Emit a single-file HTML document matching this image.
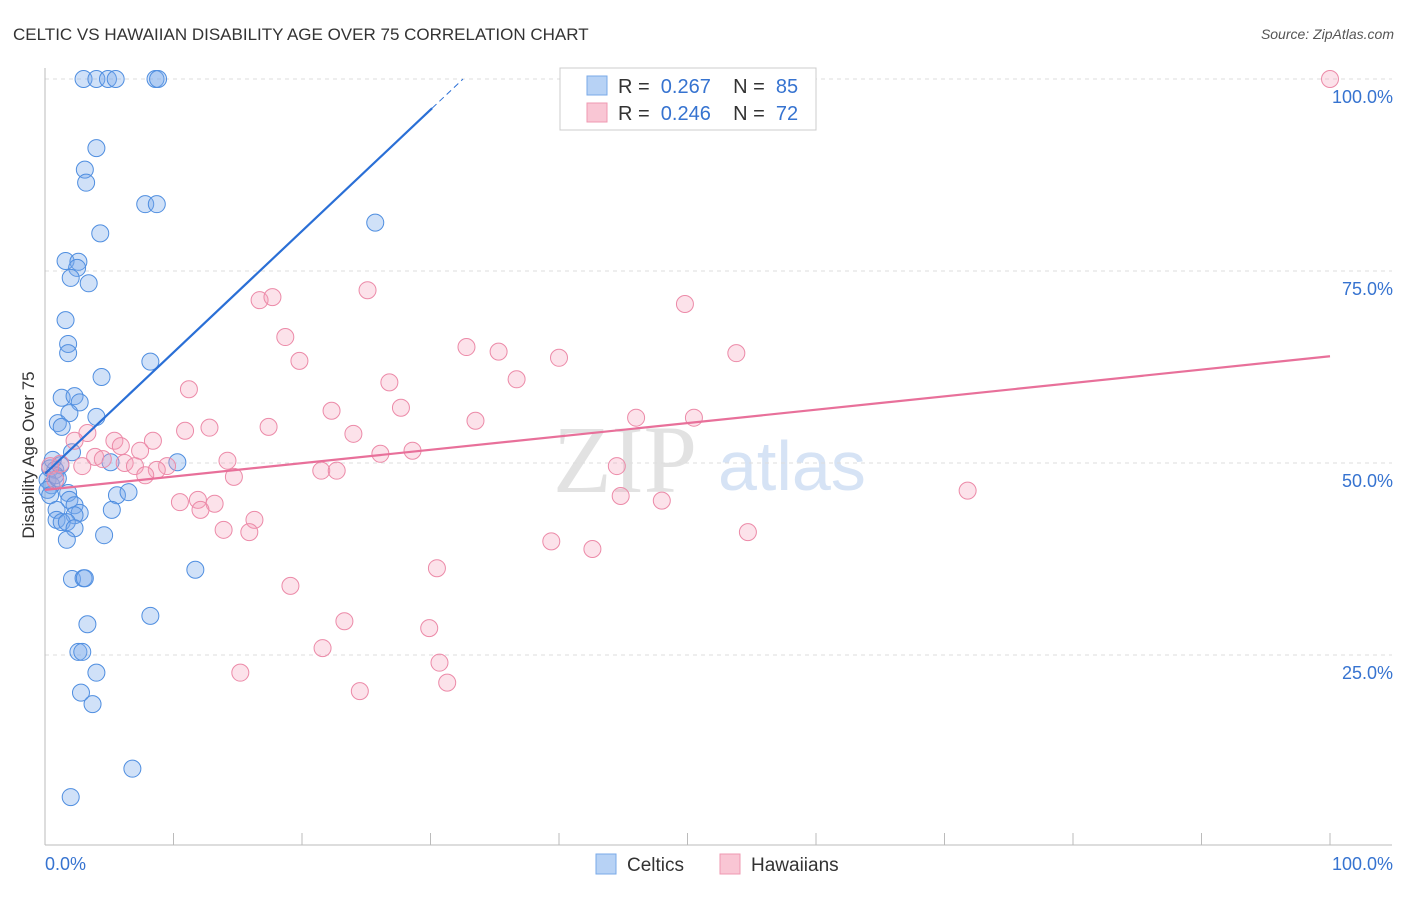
<!DOCTYPE html>
<html><head><meta charset="utf-8"><style>
body{margin:0;background:#fff;font-family:"Liberation Sans",sans-serif;}
</style></head><body>
<svg width="1406" height="892" xmlns="http://www.w3.org/2000/svg" id="svg" font-family="Liberation Sans, sans-serif">
<text x="13" y="40" font-size="17" fill="#333">CELTIC VS HAWAIIAN DISABILITY AGE OVER 75 CORRELATION CHART</text>
<text x="1394" y="39" font-size="14" fill="#555" font-style="italic" text-anchor="end">Source: ZipAtlas.com</text>
<text x="553" y="492" font-size="96" fill="#e2e2e2" font-family="Liberation Serif, serif">ZIP</text>
<text x="718" y="490" font-size="70" fill="#d6e3f5">atlas</text>
<g id="grid"></g>
<g id="marks"></g>
<text transform="translate(34,455) rotate(-90)" font-size="17" fill="#333" text-anchor="middle">Disability Age Over 75</text>
<g>
<rect x="560" y="68" width="256" height="62" fill="#fff" stroke="#ccc"/>
<rect x="587" y="76" width="20" height="19" fill="#b7d2f5" stroke="#7aaae8"/>
<rect x="587" y="103" width="20" height="19" fill="#f9c6d4" stroke="#ef98b2"/>
<text x="618" y="93" font-size="20" fill="#333" xml:space="preserve">R =  <tspan fill="#3673d0">0.267</tspan>    N =  <tspan fill="#3673d0">85</tspan></text>
<text x="618" y="120" font-size="20" fill="#333" xml:space="preserve">R =  <tspan fill="#3673d0">0.246</tspan>    N =  <tspan fill="#3673d0">72</tspan></text>
</g>
<g>
<rect x="596" y="854" width="20" height="20" fill="#b7d2f5" stroke="#7aaae8"/>
<text x="627" y="871" font-size="19" fill="#333">Celtics</text>
<rect x="720" y="854" width="20" height="20" fill="#f9c6d4" stroke="#ef98b2"/>
<text x="751" y="871" font-size="19" fill="#333">Hawaiians</text>
</g>
</svg>
<script>
const yTicks=[100,75,50,25];
const yTickLabels=["100.0%","75.0%","50.0%","25.0%"];
const xEndLabels=["0.0%","100.0%"];
const celticX=[3.0,4.0,4.9,5.5,8.6,8.8,4.0,3.1,3.2,7.8,8.7,25.7,4.3,1.6,2.6,2.5,2.0,3.4,1.6,1.8,1.8,8.2,4.4,1.3,2.3,2.7,1.9,4.0,1.0,1.3,5.1,10.3,2.1,0.4,0.8,1.2,0.2,0.5,0.8,0.2,0.4,1.0,0.6,1.8,1.9,2.3,0.9,2.7,2.3,0.9,1.3,1.7,2.3,1.7,4.6,5.6,6.5,5.2,2.1,3.0,3.1,11.7,8.2,3.3,2.6,2.9,4.0,2.8,3.7,6.8,2.0];
const celticY=[100,100,100,100,100,100,91.0,88.2,86.5,83.7,83.7,81.3,79.9,76.3,76.2,75.4,74.1,73.4,68.6,65.5,64.3,63.2,61.2,58.5,58.7,57.9,56.5,56.0,55.2,54.7,50.1,50.1,51.4,49.3,49.1,49.7,47.8,47.1,48.4,46.5,45.8,48.0,50.4,46.1,45.2,44.5,43.9,43.5,43.2,42.6,42.3,42.3,41.5,40.0,40.6,45.8,46.2,43.9,34.9,35.0,35.0,36.1,30.1,29.0,25.4,25.4,22.7,20.1,18.6,10.2,6.5];
const hawX=[100,49.8,25.1,16.7,17.7,18.7,19.8,32.8,35.3,40.0,53.8,26.8,36.7,11.2,22.3,27.7,33.5,46.0,50.5,24.0,17.4,12.8,10.9,3.3,2.3,8.4,5.4,5.9,7.4,28.6,26.1,3.9,4.5,6.2,7.0,9.5,8.7,7.8,14.2,14.7,2.9,1.2,0.4,0.8,21.5,22.7,44.5,10.5,11.9,13.2,12.1,44.8,48.0,71.8,16.3,13.9,15.9,54.7,39.4,42.6,30.5,19.1,23.3,29.9,21.6,15.2,30.7,31.3,24.5];
const hawY=[100,70.7,72.5,71.2,71.6,66.4,63.3,65.1,64.5,63.7,64.3,60.5,60.9,59.6,56.8,57.2,55.5,55.9,55.9,53.8,54.7,54.6,54.2,53.9,52.9,52.9,52.9,52.2,51.6,51.6,51.2,50.8,50.5,50.0,49.6,49.6,49.1,48.4,50.3,48.2,49.6,49.9,49.6,47.8,49.0,49.0,49.6,44.9,45.2,44.7,43.9,45.7,45.1,46.4,42.6,41.3,41.0,41.0,39.8,38.8,36.3,34.0,29.4,28.5,25.9,22.7,24.0,21.4,20.3];
const celticTrend=[48.6,1.58];
const hawTrend=[46.5,0.174];
const X0=45,X1=1330,YT=79,YB=847;
const sx=v=>X0+(X1-X0)*v/100, sy=v=>YB-(YB-YT)*v/100;
const NS="http://www.w3.org/2000/svg";
const grid=document.getElementById('grid'), marks=document.getElementById('marks');
function mk(tag,attrs,parent){const e=document.createElementNS(NS,tag);for(const k in attrs)e.setAttribute(k,attrs[k]);parent.appendChild(e);return e;}
yTicks.forEach((t,i)=>{
 const l=mk('line',{x1:45,x2:1392,y1:sy(t),y2:sy(t),stroke:'#ddd','stroke-dasharray':'4,4'},grid);
 
 
 const tx=mk('text',{x:1393,y:sy(t)+24,'font-size':18,fill:'#3673d0','text-anchor':'end'},grid);
 tx.textContent=yTickLabels[i];
 
 
});
const ax=mk('line',{x1:45,x2:1392,y1:845,y2:845,stroke:'#bbb'},grid);


const ay=mk('line',{x1:45,x2:45,y1:68,y2:845,stroke:'#bbb'},grid);


for(let i=1;i<=10;i++){
 const t=mk('line',{x1:sx(i*10),x2:sx(i*10),y1:833,y2:845,stroke:'#bbb'},grid);
 
 
}
const xl0=mk('text',{x:45,y:870,'font-size':18,fill:'#3673d0'},grid);xl0.textContent=xEndLabels[0];


const xl1=mk('text',{x:1393,y:870,'font-size':18,fill:'#3673d0','text-anchor':'end'},grid);xl1.textContent=xEndLabels[1];


celticX.forEach((x,i)=>{
 const c=mk('circle',{cx:sx(x),cy:sy(celticY[i]),r:8.5,fill:'rgba(120,170,235,0.35)',stroke:'#4f8ee0','stroke-width':1},marks);
 
 
});
hawX.forEach((x,i)=>{
 const c=mk('circle',{cx:sx(x),cy:sy(hawY[i]),r:8.5,fill:'rgba(245,160,185,0.3)',stroke:'#ec8aa8','stroke-width':1},marks);
 
 
});
const xEndC=(96.2-celticTrend[0])/celticTrend[1], xEndD=(100-celticTrend[0])/celticTrend[1];
const bl=mk('line',{x1:sx(0),y1:sy(celticTrend[0]),x2:sx(xEndC),y2:sy(celticTrend[0]+celticTrend[1]*xEndC),stroke:'#2a6fd6','stroke-width':2.2},marks);


const bd=mk('line',{x1:sx(xEndC),y1:sy(96.2),x2:sx(xEndD),y2:sy(100),stroke:'#2a6fd6','stroke-width':1,'stroke-dasharray':'6,4'},marks);


const pl=mk('line',{x1:sx(0),y1:sy(hawTrend[0]),x2:sx(100),y2:sy(hawTrend[0]+hawTrend[1]*100),stroke:'#e8709a','stroke-width':2.2},marks);


</script>
</body></html>
